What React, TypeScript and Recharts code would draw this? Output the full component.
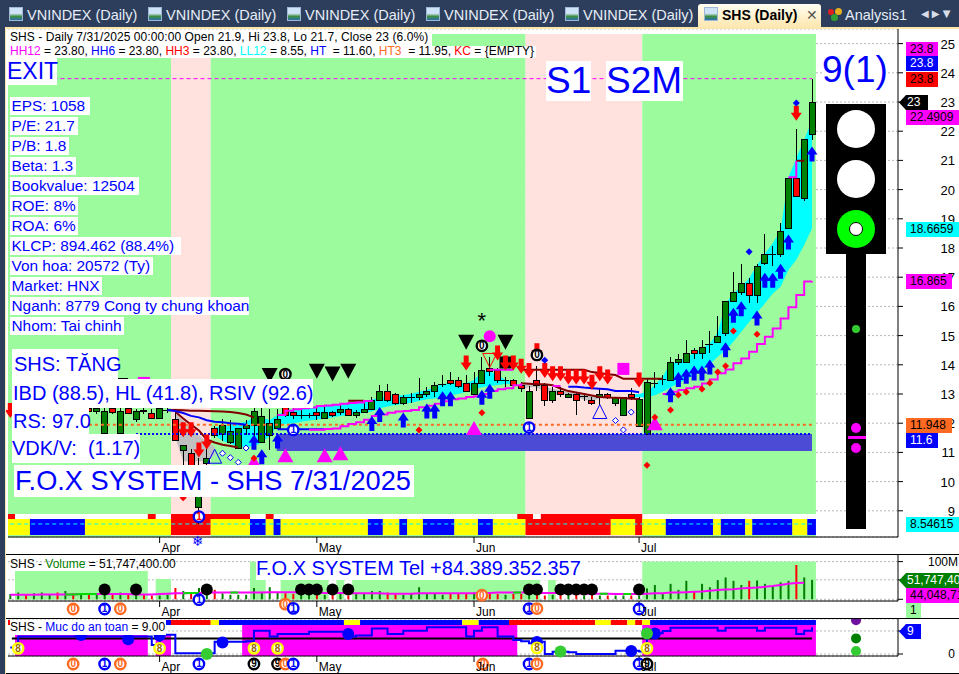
import React from "react";
import {
  ComposedChart,
  CartesianGrid,
  XAxis,
  YAxis,
  Bar,
  Cell,
  Line,
  Area,
  ReferenceArea,
  ReferenceDot,
  ReferenceLine,
} from "recharts";

const FONT = '"Liberation Sans", Arial, sans-serif';
const gap = (n: number) => new Array(n).fill(null);

const opens = [
  12.3,12.4,12.5,12.4,12.5,12.6,12.6,12.5,12.6,12.4,
  12.5,12.4,11.65,12.5,11.65,12.51,12.11,12.45,12.34,12.17,
  12.45,12.11,11.07,10.97,9.1,10.62,11.82,11.63,11.33,11.14,
  11.81,11.91,11.33,11.57,11.83,12.57,12.37,12.27,12.27,12.37,
  12.16,12.37,12.36,12.48,12.26,12.36,12.46,12.78,13.09,12.99,
  12.67,12.89,12.89,12.97,13.09,13.34,13.47,13.47,13.37,12.98,
  13.37,13.88,13.79,13.45,13.47,13.3,12.16,13.47,13.3,12.77,
  13.08,12.88,12.99,12.9,12.78,12.87,12.99,12.66,12.26,12.99,
  11.88,11.6,13.37,13.48,13.47,14.07,14.08,14.48,14.38,14.68,
  14.77,15.06,16.16,16.47,16.79,16.37,17.47,17.78,17.77,18.67,
  20.38,19.7,21.9,
];
const highs = [
  12.5,12.6,12.7,12.6,12.7,12.8,12.8,12.7,12.7,12.6,
  12.7,12.6,12.6,12.7,12.7,12.7,12.5,12.6,12.5,12.55,
  12.6,12.45,11.24,11.1,10.8,11.4,11.9,12.13,12.1,11.85,
  12.1,12.59,12.54,12.47,12.48,12.57,12.51,12.45,12.36,12.57,
  12.57,12.43,12.66,12.51,12.45,12.74,12.89,13.31,13.34,13.05,
  12.97,13.05,13.54,13.23,13.42,13.65,13.74,13.57,13.65,13.77,
  14.26,14.28,13.88,13.57,13.53,13.42,13.27,13.96,13.37,13.25,
  13.23,13.02,13.02,13.02,12.9,13.2,13.02,12.9,12.89,13.2,
  12.9,13.5,13.75,13.65,14.27,14.36,14.84,14.56,14.84,15.15,
  15.66,16.17,17.18,17.45,16.96,17.44,18.47,18.07,18.84,20.38,
  22.06,21.7,23.8,
];
const lows = [
  12.2,12.3,12.3,12.3,12.4,12.5,12.4,12.4,12.3,12.3,
  12.3,12.3,11.65,12.3,11.65,12.3,12.05,12.3,12.15,12.15,
  12.35,11.42,10.4,10.1,8.55,10.5,11.5,11.39,11.28,11.14,
  11.59,11.5,11.33,11.08,11.83,12.22,12.13,12.13,12.17,12.11,
  12.16,12.2,12.28,12.25,12.17,12.34,12.46,12.78,12.73,12.61,
  12.61,12.7,12.8,12.89,12.91,13.25,13.3,13.22,13.08,12.98,
  13.37,13.6,13.39,13.23,13.2,13.08,12.16,13.1,12.59,12.7,
  12.89,12.88,12.28,12.77,12.62,12.62,12.82,12.58,12.26,12.8,
  11.88,11.6,13.2,13.3,13.47,13.99,14.08,14.21,14.21,14.41,
  14.73,15.0,16.16,16.4,16.1,16.1,17.42,17.39,17.7,18.67,
  19.76,19.62,21.7,
];
const closes = [
  12.4,12.5,12.4,12.5,12.6,12.6,12.5,12.6,12.4,12.5,
  12.4,12.51,12.4,12.35,12.4,12.34,12.4,12.4,12.17,12.51,
  12.45,11.42,11.24,10.4,10.0,10.8,11.58,11.92,11.73,11.81,
  11.92,12.4,12.23,11.99,12.11,12.27,12.26,12.27,12.27,12.26,
  12.37,12.27,12.48,12.27,12.36,12.48,12.78,13.09,12.78,12.67,
  12.89,12.89,12.99,13.08,13.3,13.34,13.35,13.27,13.08,13.37,
  13.79,13.77,13.45,13.45,13.29,13.18,13.1,13.3,12.77,13.1,
  12.97,12.99,12.78,12.9,12.67,12.99,12.87,12.87,12.89,12.88,
  12.8,13.38,13.37,13.48,14.08,14.19,14.39,14.39,14.6,14.68,
  14.96,16.17,16.48,16.79,16.37,17.37,17.78,17.78,18.57,20.38,
  19.76,21.7,23.0,
];
const volumes = [
  14,18,12,16,18,14,18,22,15,12,14,16,20,15,18,16,14,12,10,10,
  12,30,22,16,30,18,25,16,12,12,12,30,20,32,20,16,14,14,18,14,
  12,12,16,10,14,16,22,22,18,14,12,14,32,16,14,12,14,16,14,18,
  24,18,14,12,14,14,12,14,10,12,12,14,24,10,14,10,10,10,10,10,
  10,29,38,16,41,25,49,20,41,32,51,58,49,38,49,50,41,34,45,49,
  91,58,51.7,
];
const volumeAvg = [
  12,12,12,12,13,13,13,13,13,14,14,14,14,14,14,14,13,13,13,14,15,
  16,16,17,17,18,18,18,18,18,18,18,18,19,19,19,19,18,18,18,17,17,17,16,16,16,16,16,15,15,
  15,15,16,16,16,16,16,16,16,16,17,17,18,18,18,18,18,17,17,17,17,16,16,15,15,15,15,14,14,14,
  14,15,16,16,18,18,19,20,21,23,25,26,27,29,30,31,33,35,38,41,43,44,
];
const safety = [
  2.5,6.8,6.8,6.8,6.8,6.8,6.8,6.8,6.8,6.8,6.8,6.8,6.8,6.8,6.8,6.8,6.8,6.8,3.5,7.5,
  7.5,0.25,0.25,0.25,0.25,0.25,4.8,4.8,4.8,4.8,5,9.1,9.1,6.8,7.8,7.8,7.8,7.8,8.7,8.7,
  8.7,8.7,8.7,6.8,7.2,7.2,10,10,7.8,7.8,9.1,9.1,9.1,10.4,10.4,10.4,10.4,10.4,6.8,9.1,
  10.4,10.4,6.8,6.8,5.5,5,4.2,4.8,0,0.9,0.9,0.7,0,0,0,0,0,1.3,1.3,1.3,
  1,8.1,8.1,9,10.3,10.3,10.3,10.3,10.3,10.3,9.1,10.3,10.3,10.3,10.3,9.1,10.3,10.3,10.3,10.3,
  7.8,9.1,10.4,
];

const cyanTop = [
  ...gap(26),
  11.85,11.9,11.95,12.0,12.05,12.2,12.2,12.1,
  12.28,12.43,12.48,12.51,12.54,12.59,12.61,12.63,12.67,12.69,12.71,12.76,12.8,12.89,12.91,12.93,
  12.97,13.0,13.08,13.14,13.23,13.34,13.37,13.37,13.37,13.48,13.77,13.77,13.65,13.48,13.42,
  ...gap(14),
  12.98,13.0,
  13.08,13.3,13.6,14.05,14.1,14.28,14.39,14.56,14.73,15.1,16.1,16.45,16.67,16.96,17.4,17.8,18.16,
  18.6,20.42,21.07,21.7,22.38,
];
const cyanBottom = [
  ...gap(26),
  11.6,11.4,11.3,11.2,11.2,11.2,11.35,11.55,
  11.94,11.97,12.0,12.05,12.09,12.13,12.16,12.2,12.25,12.28,12.32,12.36,12.4,12.51,12.57,12.62,
  12.66,12.7,12.76,12.82,12.85,12.91,12.97,13.0,13.08,13.16,13.23,13.27,13.31,13.34,13.34,
  ...gap(14),
  12.9,12.88,
  12.9,12.96,13.08,13.22,13.37,13.5,13.65,13.82,14.03,14.28,14.5,14.79,15.13,15.47,15.78,16.1,16.44,
  16.67,17.25,17.6,18.1,18.67,
];
const greyTop = [
  ...gap(21), 12.35,12.1,11.8,11.6,11.35,11.2,
  ...gap(38), 13.35,13.34,13.35,13.25,13.18,13.13,13.07,13.03,12.98,12.95,12.9,
  ...gap(27),
];
const greyBottom = [
  ...gap(21), 11.5,10.7,10.7,10.7,10.7,10.9,
  ...gap(38), 13.1,13.25,13.22,13.05,12.98,12.98,12.96,12.9,12.8,12.75,12.85,
  ...gap(27),
];
const darkRedUpper = [
  ...gap(20), 12.44,12.45,12.44,12.43,12.43,12.42,12.41,12.4,12.38,12.35,12.3,12.2,
  ...gap(11), 12.77,12.77,12.77,
  ...gap(19), 13.83,13.83,13.83,13.83,13.83,13.83,13.83,13.83,13.83,13.75,13.72,13.68,13.65,13.52,13.52,13.52,13.52,13.52,13.52,
  ...gap(16), 20.99,20.99,null,
];
const darkRedLower = [
  ...gap(21), 12.39,12.16,11.95,11.75,11.44,11.34,11.26,11.22,11.17,
  ...gap(35), 13.37,13.35,13.33,13.33,13.3,13.19,13.1,13.05,13.0,12.95,12.9,12.88,12.87,12.86,12.84,12.83,
  ...gap(22),
];
const blueAvg = [
  ...gap(20), 12.45,12.42,12.35,12.25,12.2,12.1,12.05,12.03,12.0,11.98,11.95,
  ...gap(3), 11.79,11.79,11.79,11.79,11.79,11.79,11.79,
  ...gap(30), 13.25,13.25,13.22,13.2,13.18,13.16,13.1,13.1,13.1,13.06,
  ...gap(22),
];
const magentaStop = [
  ...gap(38), 11.78,11.78,11.8,11.82,11.9,11.97,12.03,12.12,12.25,12.3,12.36,12.4,12.42,12.45,12.55,12.6,
  12.67,12.75,12.82,12.85,12.9,12.92,13.0,13.1,13.16,13.2,13.3,13.37,
  ...gap(3), 13.27,13.27,
  ...gap(12), 13.0,13.08,13.14,13.2,13.25,13.36,13.5,13.71,13.84,14.05,14.22,14.45,14.71,14.96,15.24,15.59,15.97,16.39,16.85,16.865,
];
const magentaUpper = [
  ...gap(34), 12.28,12.43,12.48,12.51,12.54,12.59,12.61,12.63,12.67,12.69,12.71,12.76,12.8,
  ...gap(14), 13.83,13.83,13.83,13.83,
  ...gap(34), 20.42,20.99,null,null,
];

const months: Record<number, string> = { 19: "Apr", 39: "May", 59: "Jun", 80: "Jul" };
const priceTicks = [9,10,11,12,13,14,15,16,17,18,19,20,21,22,23,24,25];

const GREEN_ZONE = "#9cfb9c";
const PINK_ZONE = "#ffe1de";
// [first bar edge, last bar edge, colour], in bar units
const zones: [number, number, string][] = [
  [-0.29, 20.45, GREEN_ZONE],
  [20.45, 25.5, PINK_ZONE],
  [25.5, 65.55, GREEN_ZONE],
  [65.55, 80.4, PINK_ZONE],
  [80.4, 102.5, GREEN_ZONE],
];

const RED = "#ff0000", BLU = "#0000ff", YEL = "#ffff00", ORG = "#ff6a22";
const stateRuns: [number, number, string][] = [
  [-0.29,2.5,YEL],[2.5,9.5,BLU],[9.5,20.45,YEL],[20.45,25.5,RED],[25.5,30.5,YEL],[30.5,32.5,BLU],
  [32.5,33.5,YEL],[33.5,34.4,BLU],[34.4,45.5,YEL],[45.5,47.4,BLU],[47.4,49.5,YEL],[49.5,50.5,BLU],
  [50.5,52.5,YEL],[52.5,56.5,BLU],[56.5,59.5,YEL],[59.5,61.4,BLU],[61.4,65.55,YEL],[65.55,76.4,RED],
  [76.4,79.5,YEL],[79.5,80.4,RED],[80.4,83.4,YEL],[83.4,89.4,BLU],[89.4,90.4,YEL],[90.4,93.5,BLU],
  [93.5,94.4,YEL],[94.4,99.5,BLU],[99.5,101.4,YEL],[101.4,102.5,BLU],
];
const alertRuns: [number, number][] = [
  [-0.29,0.6],[17.5,18.5],[20.45,30.5],[32.5,33.5],[64.5,66.5],[67.5,80.4],
];
const safetyRuns: [number, number, string][] = [
  [19.8,20.45,BLU],[20.45,25.5,RED],[25.5,26.55,YEL],[26.55,42.45,BLU],[42.45,44.5,YEL],[44.5,57.5,BLU],
  [57.5,59.6,YEL],[59.6,63.45,BLU],[63.45,74.4,RED],[74.4,76.4,YEL],[76.4,78.5,RED],[78.5,79.5,YEL],
  [79.5,80.4,RED],[80.4,81.4,YEL],[81.4,102.5,BLU],
];
const safeBack: [number, number, number][] = [
  [0.6,17.5,7.4],[18.5,20.45,7.4],[29.5,64.5,11.33],[80.4,102.5,11.33],
];
// [first, last, volume level] for the green panels behind the volume bars
const volumeBack: [number, number, number][] = [
  [0.6,17.5,75],[18.5,20.45,54],[30.5,32.5,100],[34.4,40.5,54],[41.5,42.5,54],[43.5,67.4,54],[68.4,69.4,54],[80.4,102.5,100],
];
const volumeGreen: [number, number][] = [[7,11],[22,24],[28,29],[64,65],[75,76],[78,79]];

// marker lists: [bar, value]
const blueArrows = [
  [31,11.33],[32,10.83],[34,11.37],[46,11.97],[47,12.28],[50,12.09],[53,12.4],[54,12.4],[55,12.82],[56,12.82],[60,12.87],[61,13.08],
  [84,12.96],[85,13.48],[86,13.59],[87,13.7],[88,13.7],[89,13.91],[91,14.5],[92,15.68],[93,15.9],[95,15.59],[96,16.88],[97,16.88],[98,17.19],[99,18.19],[102,21.2],
];
const redArrows = [
  [0,12.45],[22,11.79],[23,11.79],[24,11.1],[25,11.37],[58,14.08],[62,14.42],[63,14.08],[64,14.08],[65,13.97],[66,13.82],[67,14.5],[68,13.82],
  [69,13.71],[70,13.71],[71,13.6],[72,13.6],[73,13.6],[74,13.42],[75,13.71],[76,13.6],[80,13.5],[100,22.63],
];
const blackTriangles = [[8,13.31],[14,13.31],[33,13.65],[39,13.8],[41,13.7],[43,13.8],[58,14.79],[63,14.79]];
const pinkTriangles = [[31,10.67],[35,10.9],[40,10.9],[42,10.97],[59,11.84],[82,12.0]];
const redDiamonds = [
  [22,9.45],[31,10.8],[52,11.77],[60,12.36],[81,10.56],[82,12.2],[84,12.45],[85,12.97],[86,13.07],[88,13.17],[89,13.38],[90,13.75],[91,13.96],[92,15.16],[95,15.05],
];
const blueDiamonds = [[68,14.16],[94,17.87],[100,22.97]];
const openDiamonds = [[27,10.97],[28,10.82],[29,10.66],[30,11.15],[77,12.09],[78,11.77],[79,12.38]];
const openTriangles = [[26,10.87],[75,12.4]];
const ringedZero = [[35,13.68],[60,14.65],[67,14.34]];
const ringedOne = [[36,11.77],[66,11.85]];
const volumeDots = [12,16,25,37,38,39,41,43,66,67,70,71,72,73,74,80];
const volumeBadges: [number, number, string, string][] = [
  [8,-25.7,"0",ORG],[12,-25.7,"1",BLU],[14,-25,"0",ORG],[24,-1,"1",BLU],[35,-13,"0",ORG],[36,-24,"1",BLU],
  [60,11,"0",ORG],[66,-24.5,"1",BLU],[67,-24.5,"0",ORG],[80,-25.7,"1",BLU],
];
const safeBadges: [number, number, string, string][] = [
  [8,-3.9,"0",ORG],[12,-3.9,"1",BLU],[14,-3.9,"0",ORG],[24,-3.9,"1",BLU],[31,-3.9,"9","#000000"],[34,-3.9,"9","#000000"],
  [35,-3.9,"0",ORG],[36,-3.9,"1",BLU],[60.1,-3.9,"0",ORG],[66,-3.9,"1",BLU],[67,-3.9,"0",ORG],[80,-3.9,"1",BLU],[81,-3.9,"9","#000000"],
  [1,2.2,"8",YEL],[19,2.2,"8",YEL],[31,2.2,"8",YEL],[34,2.2,"8",YEL],[67,2.4,"8",YEL],[81,2.2,"8",YEL],
];
const safeBlueDots = [[9,7.4],[15,5.8],[19,7.2],[27,4.5],[43,7.8],[67,4.7],[79,1.2],[82,8]];
const safeGreenDots = [[25,0],[70,1],[81,8]];
const sideDots: [number, string][] = [[13.2,"#7012a0"],[6.1,"#008000"],[1.2,"#33cc33"]];

const rows = opens.map((open, i) => ({
  i,
  open,
  high: highs[i],
  low: lows[i],
  close: closes[i],
  range: [lows[i], highs[i]],
  cyan: cyanTop[i] == null ? null : [cyanBottom[i], cyanTop[i]],
  grey: greyTop[i] == null ? null : [greyBottom[i], greyTop[i]],
  darkRedUpper: darkRedUpper[i] ?? null,
  darkRedLower: darkRedLower[i] ?? null,
  blueAvg: blueAvg[i] ?? null,
  magentaStop: magentaStop[i] ?? null,
  magentaUpper: magentaUpper[i] ?? null,
  volume: volumes[i],
  volumeAvg: volumeAvg[i],
  volumeAvgGreen: volumeGreen.some(([a, b]) => i >= a && i <= b) ? volumeAvg[i] : null,
  safety: safety[i],
}));

// ---- shapes ----
const poly = (pts: number[][], fill: string, stroke = "none") => (
  <polygon points={pts.map((p) => p.join(",")).join(" ")} fill={fill} stroke={stroke} />
);
const UpArrow = ({ cx: x, cy: y }: any) =>
  poly([[x,y-8],[x+5.5,y],[x+2.5,y],[x+2.5,y+7],[x-2.5,y+7],[x-2.5,y],[x-5.5,y]], "#0000ff");
const DownArrow = ({ cx: x, cy: y }: any) =>
  poly([[x,y+8],[x+5.5,y],[x+2.5,y],[x+2.5,y-7],[x-2.5,y-7],[x-2.5,y],[x-5.5,y]], "#ff0000");
const BlackTriangle = ({ cx: x, cy: y }: any) => poly([[x-8,y-7],[x+8,y-7],[x,y+8]], "#000000");
const PinkTriangle = ({ cx: x, cy: y }: any) => poly([[x-8,y+7],[x+8,y+7],[x,y-7]], "#ff00ff");
const OpenTriangle = ({ cx: x, cy: y }: any) => poly([[x-7,y+7],[x+7,y+7],[x,y-7]], "none", "#0000ff");
const RedOpenTriangle = ({ cx: x, cy: y }: any) => poly([[x-7,y-7],[x+7,y-7],[x,y+7]], "none", "#ff0000");
const RedDiamond = ({ cx: x, cy: y }: any) => poly([[x,y-3.5],[x+3.5,y],[x,y+3.5],[x-3.5,y]], "#ff0000");
const BlueDiamond = ({ cx: x, cy: y }: any) => poly([[x,y-3.5],[x+3.5,y],[x,y+3.5],[x-3.5,y]], "#0000ff");
const OpenDiamond = ({ cx: x, cy: y }: any) => poly([[x,y-3],[x+3,y],[x,y+3],[x-3,y]], "#ffffff", "#0000ff");
const Disc = (r: number, fill: string) => ({ cx, cy }: any) => <circle cx={cx} cy={cy} r={r} fill={fill} />;
const Block = (s: number, fill: string) => ({ cx, cy }: any) => <rect x={cx - s / 2} y={cy - s / 2} width={s} height={s} fill={fill} />;
const Star = ({ cx, cy }: any) => (
  <text x={cx} y={cy + 12} textAnchor="middle" fontFamily={FONT} fontSize={22} fill="#000">*</text>
);
const badge = (label: string, color: string, textFill = color) => ({ cx, cy }: any) => (
  <g>
    <circle cx={cx} cy={cy} r={5.2} fill="#fff" stroke={color} strokeWidth={2.4} />
    <text x={cx} y={cy + 3.5} textAnchor="middle" fontFamily={FONT} fontWeight="bold" fontSize={10}
      fill={color === YEL ? "#996600" : textFill}>{label}</text>
  </g>
);

const dots = (list: number[][], shape: any, tag: string) =>
  list.map(([x, y]) => (
    <ReferenceDot key={`${tag}-${x}-${y}`} x={x} y={y} r={1} ifOverflow="visible" shape={shape} />
  ));

const Candle = ({ x, y, width, height, payload }: any) => {
  const mid = Math.round(x + width / 2);
  const perUnit = height / (payload.high - payload.low);
  const top = y + (payload.high - Math.max(payload.open, payload.close)) * perUnit;
  const bottom = y + (payload.high - Math.min(payload.open, payload.close)) * perUnit;
  const doji = payload.open === payload.close;
  return (
    <g shapeRendering="crispEdges">
      <line x1={mid} x2={mid} y1={y} y2={y + height} stroke="#000" />
      {doji ? (
        <line x1={mid - 4} x2={mid + 4} y1={top} y2={top} stroke="#000" />
      ) : (
        <rect x={mid - 3} y={top} width={6} height={Math.max(bottom - top, 1)}
          fill={payload.close > payload.open ? "#008000" : "#ff0000"} stroke="#000" />
      )}
    </g>
  );
};

const MonthTick = ({ x, y, payload }: any) => (
  <text x={x + 2} y={y + 7} fontFamily={FONT} fontSize={12} fill="#000">{months[payload.value]}</text>
);
const PriceTick = ({ y, payload }: any) => (
  <text x={955} y={y + 5} textAnchor="end" fontFamily={FONT} fontSize={13} fill="#000">{payload.value}</text>
);
const VolumeTick = ({ y, payload }: any) =>
  payload.value === 100 ? (
    <text x={958} y={y + 4} textAnchor="end" fontFamily={FONT} fontSize={12} fill="#000">100M</text>
  ) : <g />;
const SafeTick = ({ y, payload }: any) =>
  payload.value === 0 ? (
    <text x={955} y={y + 4} textAnchor="end" fontFamily={FONT} fontSize={12} fill="#000">0</text>
  ) : <g />;

const xAxisProps: any = {
  type: "number",
  dataKey: "i",
  domain: [-0.29, 112.94],
  allowDataOverflow: true,
  ticks: [19, 39, 59, 80],
  height: 17,
  tickSize: 6,
  tickLine: { stroke: "#000" },
  axisLine: { stroke: "#000" },
  interval: 0,
  tick: MonthTick,
};
const grid = <CartesianGrid horizontal vertical={false} stroke="#b8b8b8" strokeDasharray="2 2" />;

// ---- html chrome ----
const Box = ({ x, y, w, h, size, children, color = "#0000ff", pad = 2 }: any) => (
  <div style={{
    position: "absolute", left: x, top: y, width: w, height: h, background: "#fff", color,
    fontSize: size, lineHeight: `${h}px`, paddingLeft: pad, boxSizing: "border-box", whiteSpace: "pre", fontFamily: FONT,
  }}>{children}</div>
);
const Chip = ({ x, y, w, bg, color = "#000", children, arrow = false, h = 15 }: any) => (
  <div style={{
    position: "absolute", left: x, top: y, width: w, height: h, background: bg, color, fontSize: 12, lineHeight: `${h}px`,
    fontFamily: FONT, overflow: "hidden", whiteSpace: "nowrap", boxSizing: "border-box",
    paddingLeft: arrow ? 8 : 4,
    clipPath: arrow ? `polygon(0 50%, 7px 0, 100% 0, 100% 100%, 7px 100%)` : undefined,
  }}>{children}</div>
);
const HLine = ({ y, x = 6, right = 959 }: any) => (
  <div style={{ position: "absolute", left: x, top: y, width: right - x, height: 1, background: "#000" }} />
);

const tabNames = [9, 148, 287, 426, 565];
const TabIcon = ({ x, y = 7 }: any) => (
  <div style={{
    position: "absolute", left: x, top: y, width: 14, height: 14, boxSizing: "border-box", border: "1px solid #9fb8d8",
    background: "linear-gradient(#cfe3f8 0 45%, #3f8f3f 70%, #2c6fb0 100%)",
  }} />
);

const infoRows = [
  "EPS: 1058", "P/E: 21.7", "P/B: 1.8", "Beta: 1.3", "Bookvalue: 12504", "ROE: 8%", "ROA: 6%",
  "KLCP: 894.462 (88.4%)", "Von hoa: 20572 (Ty)", "Market: HNX", "Nganh: 8779 Cong ty chung khoan", "Nhom: Tai chinh",
];
const infoWidths = [80, 68, 59, 66, 129, 68, 68, 171, 143, 92, 239, 114];

export default function App(): React.ReactElement {
  return (
    <div style={{ position: "absolute", left: 0, top: 0, width: 959, height: 674, background: "#fff", overflow: "hidden", fontFamily: FONT }}>
      {/* main price pane */}
      <div style={{ position: "absolute", left: 0, top: 29 }}>
        <ComposedChart width={959} height={525} data={rows} margin={{ top: 0, right: 0, bottom: 0, left: 8 }}>
          {grid}
          <XAxis {...xAxisProps} />
          <YAxis
            orientation="right"
            width={61}
            domain={[8.103, 25.5]}
            allowDataOverflow
            ticks={priceTicks}
            interval={0}
            tickSize={5}
            tick={PriceTick}
            tickLine={{ stroke: "#000" }}
            axisLine={{ stroke: "#000" }}
          />
          {zones.map(([a, b, c]) => (
            <ReferenceArea key={`z${a}`} x1={a} x2={b} y1={8.103} y2={25.33} fill={c} fillOpacity={1} stroke="none" />
          ))}
          <ReferenceArea x1={-0.29} x2={102.5} y1={8.72} y2={8.89} fill="#ffffff" fillOpacity={1} stroke="none" />
          {alertRuns.map(([a, b]) => (
            <ReferenceArea key={`a${a}`} x1={a} x2={b} y1={8.72} y2={8.89} fill="#ff0000" fillOpacity={1} stroke="none" />
          ))}
          {stateRuns.map(([a, b, c]) => (
            <ReferenceArea key={`s${a}`} x1={a} x2={b} y1={8.17} y2={8.72} fill={c} fillOpacity={1} stroke="none" />
          ))}
          <ReferenceLine segment={[{ x: 0, y: 8.55 }, { x: 102, y: 8.55 }]} stroke="#00ffff" strokeDasharray="4 3" ifOverflow="visible" />
          <ReferenceArea x1={33.9} x2={102} y1={11.05} y2={11.63} fill="#4b4bd6" fillOpacity={1} stroke="none" />
          <ReferenceLine segment={[{ x: 5.5, y: 23.8 }, { x: 102, y: 23.8 }]} stroke="#ff00ff" strokeDasharray="4 3" ifOverflow="visible" />
          <ReferenceLine segment={[{ x: 10, y: 11.948 }, { x: 102, y: 11.948 }]} stroke={ORG} strokeWidth={2} strokeDasharray="3 3" ifOverflow="visible" />
          <ReferenceLine segment={[{ x: 16, y: 11.63 }, { x: 102, y: 11.63 }]} stroke="#0000ff" strokeWidth={2} strokeDasharray="2 2" ifOverflow="visible" />

          <Area dataKey="cyan" type="linear" fill="#00ffff" fillOpacity={1} stroke="none" dot={false} activeDot={false} isAnimationActive={false} />
          <Area dataKey="grey" type="linear" fill="#c0c0c0" fillOpacity={1} stroke="none" dot={false} activeDot={false} isAnimationActive={false} />
          <Line dataKey="darkRedUpper" stroke="#800000" strokeWidth={2} dot={false} activeDot={false} isAnimationActive={false} />
          <Line dataKey="darkRedLower" stroke="#800000" strokeWidth={2} dot={false} activeDot={false} isAnimationActive={false} />
          <Line dataKey="blueAvg" stroke="#0000ff" strokeWidth={2} dot={false} activeDot={false} isAnimationActive={false} />
          <Line dataKey="magentaStop" type="stepAfter" stroke="#ff00ff" strokeWidth={2} dot={false} activeDot={false} isAnimationActive={false} />
          <Line dataKey="magentaUpper" type="stepAfter" stroke="#ff00ff" strokeWidth={2} dot={false} activeDot={false} isAnimationActive={false} />
          <Bar dataKey="range" barSize={7} shape={Candle} isAnimationActive={false} />

          {dots(pinkTriangles, PinkTriangle, "pt")}
          {dots(redDiamonds, RedDiamond, "rd")}
          {dots(blackTriangles, BlackTriangle, "bt")}
          {dots([[63, 14.08]], Block(12, "#000"), "bs")}
          {dots([[78, 13.86], [17, 13.38]], Block(12, "#ff00ff"), "ms")}
          {dots(blueArrows, UpArrow, "ua")}
          {dots(redArrows, DownArrow, "da")}
          {dots(blueDiamonds, BlueDiamond, "bd")}
          {dots(openDiamonds, OpenDiamond, "od")}
          {dots(openTriangles, OpenTriangle, "ot")}
          {dots([[61, 14.15]], RedOpenTriangle, "rt")}
          {dots([[61, 14.98]], Disc(6, "#ff00ff"), "mc")}
          {dots([[60, 15.67]], Star, "st")}
          {dots(ringedZero, badge("0", "#000000"), "z0")}
          {dots(ringedOne, badge("1", "#0000ff"), "o1")}
          {dots([[24, 8.8]], badge("1", "#0000ff", "#ff0000"), "o2")}
        </ComposedChart>
      </div>

      {/* volume pane */}
      <div style={{ position: "absolute", left: 0, top: 554 }}>
        <ComposedChart width={959} height={64} data={rows} margin={{ top: 0, right: 0, bottom: 0, left: 8 }}>
          {grid}
          <XAxis {...xAxisProps} />
          <YAxis orientation="right" width={61} domain={[-4.5, 120.2]} allowDataOverflow ticks={[0, 51.7, 100]} interval={0}
            tickSize={5} tick={VolumeTick} tickLine={{ stroke: "#000" }} axisLine={{ stroke: "#000" }} />
          {volumeBack.map(([a, b, v]) => (
            <ReferenceArea key={`v${a}`} x1={a} x2={b} y1={-1} y2={v} fill={GREEN_ZONE} fillOpacity={1} stroke="none" />
          ))}
          <Bar dataKey="volume" barSize={2} isAnimationActive={false}>
            {rows.map((r) => (
              <Cell key={r.i} fill={r.close >= r.open ? "#008000" : "#ff0000"} />
            ))}
          </Bar>
          <Line dataKey="volumeAvg" stroke="#ff00ff" strokeWidth={2} dot={false} activeDot={false} isAnimationActive={false} />
          <Line dataKey="volumeAvgGreen" stroke="#00dd00" strokeWidth={2} dot={false} activeDot={false} isAnimationActive={false} />
          {dots(volumeDots.map((i) => [i, 26]), Disc(6, "#000"), "vd")}
          {volumeBadges.map(([x, y, t, c]) => (
            <ReferenceDot key={`vb${x}${t}`} x={x} y={y} r={1} ifOverflow="visible" shape={badge(t, c)} />
          ))}
        </ComposedChart>
      </div>

      {/* safety level pane */}
      <div style={{ position: "absolute", left: 0, top: 619 }}>
        <ComposedChart width={959} height={54} data={rows} margin={{ top: 0, right: 0, bottom: 0, left: 8 }}>
          {grid}
          <XAxis {...xAxisProps} />
          <YAxis orientation="right" width={61} domain={[-0.78, 13.67]} allowDataOverflow ticks={[0, 9]} interval={0}
            tickSize={5} tick={SafeTick} tickLine={{ stroke: "#000" }} axisLine={{ stroke: "#000" }} />
          {safeBack.map(([a, b, v]) => (
            <ReferenceArea key={`b${a}`} x1={a} x2={b} y1={-0.78} y2={v} fill="#ff00ff" fillOpacity={1} stroke="none" />
          ))}
          {safetyRuns.map(([a, b, c]) => (
            <ReferenceArea key={`r${a}`} x1={a} x2={b} y1={11.33} y2={13.28} fill={c} fillOpacity={1} stroke="none" />
          ))}
          <ReferenceLine segment={[{ x: 0.2, y: 6.05 }, { x: 102, y: 6.05 }]} stroke="#000" strokeWidth={2} ifOverflow="visible" />
          <Line dataKey="safety" type="stepAfter" stroke="#0000ff" strokeWidth={2} dot={false} activeDot={false} isAnimationActive={false} />
          {dots(safeBlueDots, Disc(6, "#0000ff"), "sb")}
          {dots(safeGreenDots, Disc(6, "#33cc33"), "sg")}
          {safeBadges.map(([x, y, t, c]) => (
            <ReferenceDot key={`sx${x}${y}${t}`} x={x} y={y} r={1} ifOverflow="visible" shape={badge(t, c)} />
          ))}
          {sideDots.map(([y, c]) => (
            <ReferenceDot key={c} x={107.6} y={y} r={1} ifOverflow="visible" shape={Disc(5, c)} />
          ))}
        </ComposedChart>
      </div>

      <HLine y={554} />
      <HLine y={618} />
      <HLine y={673} />

      {/* tab bar */}
      <div style={{ position: "absolute", left: 0, top: 0, width: 959, height: 27, background: "#2d3e5c" }} />
      <div style={{ position: "absolute", left: 5, top: 27, width: 954, height: 2, background: "#fde6ac" }} />
      <div style={{ position: "absolute", left: 0, top: 27, width: 5, height: 647, background: "#2d3e5c" }} />
      <div style={{ position: "absolute", left: 5, top: 27, width: 1, height: 647, background: "#fde6ac" }} />
      {tabNames.map((x) => (
        <React.Fragment key={x}>
          <TabIcon x={x} />
          <div style={{ position: "absolute", left: x + 18, top: 6, fontSize: 14.5, lineHeight: "18px", color: "#e6edf7", whiteSpace: "nowrap" }}>VNINDEX (Daily)</div>
        </React.Fragment>
      ))}
      <div style={{ position: "absolute", left: 698, top: 4, width: 123, height: 24, borderRadius: "3px 3px 0 0", background: "linear-gradient(#fffdf2, #fde6ac)" }} />
      <TabIcon x={704} />
      <div style={{ position: "absolute", left: 722, top: 6, fontSize: 14, fontWeight: "bold", lineHeight: "18px", color: "#000", whiteSpace: "nowrap" }}>SHS (Daily)</div>
      <div style={{ position: "absolute", left: 806, top: 6, fontSize: 14, lineHeight: "18px", color: "#555" }}>✕</div>
      <div style={{ position: "absolute", left: 828, top: 9, width: 6, height: 6, borderRadius: 3, background: "#e02020" }} />
      <div style={{ position: "absolute", left: 835, top: 8, width: 7, height: 7, borderRadius: 4, background: "#e8b020" }} />
      <div style={{ position: "absolute", left: 831, top: 14, width: 7, height: 7, borderRadius: 4, background: "#30a030" }} />
      <div style={{ position: "absolute", left: 845, top: 6, fontSize: 14.5, lineHeight: "18px", color: "#e6edf7", whiteSpace: "nowrap" }}>Analysis1</div>
      <div style={{ position: "absolute", left: 921, top: 7, fontSize: 10, lineHeight: "14px", color: "#d8dee8", whiteSpace: "pre", fontFamily: "DejaVu Sans" }}>◀ ▶ ▼</div>

      {/* chart header */}
      <div style={{ position: "absolute", left: 8, top: 30, width: 424, height: 16, background: "#fff" }} />
      <div style={{ position: "absolute", left: 8, top: 46, width: 528, height: 12, background: "#fff" }} />
      <div style={{ position: "absolute", left: 10, top: 30, fontSize: 12, letterSpacing: 0.08, lineHeight: "15px", color: "#000", whiteSpace: "pre" }}>
        SHS - Daily 7/31/2025 00:00:00 Open 21.9, Hi 23.8, Lo 21.7, Close 23 (6.0%)
      </div>
      <div style={{ position: "absolute", left: 10, top: 44, fontSize: 12, lineHeight: "15px", color: "#000", whiteSpace: "pre" }}>
        <span style={{ color: "#ff00ff" }}>HH12</span> = 23.80, <span style={{ color: "#0000ff" }}>HH6</span> = 23.80, <span style={{ color: "#ff0000" }}>HH3</span> = 23.80, <span style={{ color: "#00ffff" }}>LL12</span> = 8.55, <span style={{ color: "#0000ff" }}>HT </span> = 11.60, <span style={{ color: "#ff6a22" }}>HT3 </span> = 11.95, <span style={{ color: "#ff0000" }}>KC</span> = {"{EMPTY}"}
      </div>

      {/* text boxes */}
      <Box x={6} y={58} w={51} h={27} size={23} pad={1}>EXIT</Box>
      {infoRows.map((t, n) => (
        <Box key={t} x={10} y={97 + n * 20} w={infoWidths[n]} h={18} size={15.4} pad={1.5}>{t}</Box>
      ))}
      <Box x={12} y={349} w={106} h={30} size={20}>SHS: TĂNG</Box>
      <Box x={12} y={379} w={301} h={29} size={20} pad={1}>IBD (88.5), HL (41.8), RSIV (92.6)</Box>
      <Box x={12} y={408} w={77} h={26} size={20} pad={1}>RS: 97.0</Box>
      <Box x={12} y={434} w={128} h={29} size={20} pad={0}>VDK/V:  (1.17)</Box>
      <Box x={14} y={465} w={400} h={32} size={27.2} pad={1}>F.O.X SYSTEM - SHS 7/31/2025</Box>
      <Box x={546} y={61} w={45} h={40} size={37} pad={0}>S1</Box>
      <Box x={606} y={61} w={77} h={40} size={37} pad={0}>S2M</Box>
      <Box x={822} y={48} w={66} h={44} size={37} pad={0}>9(1)</Box>
      <Box x={256} y={556} w={332} h={24} size={20} pad={0}>F.O.X SYSTEM Tel +84.389.352.357</Box>

      {/* pane captions */}
      <div style={{ position: "absolute", left: 10, top: 557, fontSize: 12, lineHeight: "15px", color: "#000", whiteSpace: "pre" }}>
        SHS - <span style={{ color: "#008000" }}>Volume</span> = 51,747,400.00
      </div>
      <div style={{ position: "absolute", left: 8, top: 620, width: 158, height: 15, background: "#fff" }} />
      <div style={{ position: "absolute", left: 10, top: 620, fontSize: 12, lineHeight: "15px", color: "#000", whiteSpace: "pre" }}>
        SHS - <span style={{ color: "#0000ff" }}>Muc do an toan</span> = 9.00
      </div>
      <div style={{ position: "absolute", left: 8, top: 620, width: 2, height: 5, background: "#ff0000" }} />

      {/* traffic light */}
      <div style={{ position: "absolute", left: 826, top: 104, width: 60, height: 150, background: "#000" }} />
      <div style={{ position: "absolute", left: 846, top: 254, width: 20, height: 275, background: "#000" }} />
      {[129, 179].map((y) => (
        <div key={y} style={{ position: "absolute", left: 837, top: y - 19, width: 38, height: 38, borderRadius: 19, background: "#fff" }} />
      ))}
      <div style={{ position: "absolute", left: 837, top: 210, width: 38, height: 38, borderRadius: 19, background: "#00ff00" }} />
      <div style={{ position: "absolute", left: 849, top: 222, width: 14, height: 14, borderRadius: 7, background: "#fff", border: "1px solid #000", boxSizing: "border-box" }} />
      <div style={{ position: "absolute", left: 852, top: 325, width: 8, height: 8, borderRadius: 4, background: "#33cc33" }} />
      <div style={{ position: "absolute", left: 851, top: 423, width: 10, height: 10, borderRadius: 5, background: "#ff00ff" }} />
      <div style={{ position: "absolute", left: 848, top: 436, width: 18, height: 3, background: "#ff00ff" }} />
      <div style={{ position: "absolute", left: 851, top: 443, width: 10, height: 10, borderRadius: 5, background: "#ff00ff" }} />

      {/* value chips */}
      <Chip x={906} y={42} w={32} bg="#ff00ff">23.8</Chip>
      <Chip x={906} y={56} w={32} bg="#0000ff" color="#fff">23.8</Chip>
      <Chip x={906} y={72} w={32} bg="#ff0000">23.8</Chip>
      <Chip x={899} y={95} w={29} bg="#000000" color="#fff" arrow>23</Chip>
      <Chip x={906} y={110} w={53} bg="#ff00ff">22.4909</Chip>
      <Chip x={906} y={222} w={53} bg="#00ffff">18.6659</Chip>
      <Chip x={906} y={274} w={46} bg="#ff00ff">16.865</Chip>
      <Chip x={906} y={418} w={46} bg={ORG}>11.948</Chip>
      <Chip x={906} y={433} w={32} bg="#0000ff" color="#fff">11.6</Chip>
      <Chip x={906} y={517} w={53} bg="#00ffff">8.54615</Chip>
      <Chip x={899} y={573} w={60} bg="#008000" color="#fff" arrow>51,747,40</Chip>
      <Chip x={906} y={588} w={53} bg="#ff00ff">44,048,71</Chip>
      <Chip x={906} y={603} w={15} bg={GREEN_ZONE}>1</Chip>
      <Chip x={899} y={624} w={22} bg="#0000ff" color="#fff" arrow>9</Chip>
      <div style={{ position: "absolute", left: 192, top: 533, fontFamily: "DejaVu Sans", fontSize: 14, color: "#0000ff", lineHeight: "16px" }}>❄</div>
    </div>
  );
}
